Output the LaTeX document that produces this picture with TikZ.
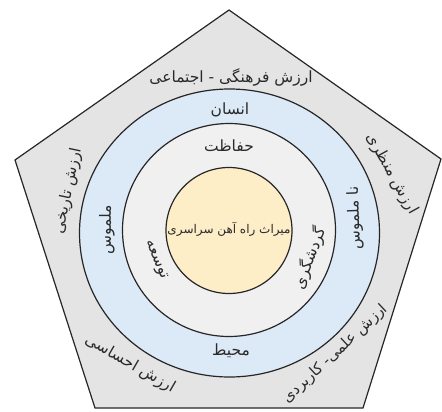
\documentclass[tikz,border=0pt]{standalone}
\usepackage{fontspec}
\newfontfamily\arabicfont[Script=Arabic]{DejaVu Sans}
\TeXXeTstate=1
\definecolor{pentfill}{HTML}{E4E4E4}
\definecolor{bluering}{HTML}{DCE9F7}
\definecolor{midring}{HTML}{F0F0F0}
\definecolor{corefill}{HTML}{FDEEC8}
\definecolor{linecol}{HTML}{262626}
\definecolor{txtcol}{HTML}{2A2A2A}
\begin{document}
\begin{tikzpicture}[x=1pt,y=-1pt,
  shapeline/.style={draw=linecol, line width=1.2pt},
  lbl/.style={font=\arabicfont\fontsize{15.5}{17}\selectfont, text=txtcol, inner sep=1pt},
  lblsmall/.style={lbl, font=\arabicfont\fontsize{12}{14}\selectfont}]
\useasboundingbox (0,0) rectangle (442,412);
\fill[white] (0,0) rectangle (442,412);
% pentagon
\draw[shapeline, fill=pentfill, line join=miter] (229,10) -- (441,159) -- (363,408) -- (95,408) -- (15,160) -- cycle;
% rings
\draw[shapeline, fill=bluering] (229.5,233) ellipse [x radius=150, y radius=144];
\draw[shapeline, fill=midring] (229,230) circle [radius=106.5];
\draw[shapeline, fill=corefill] (229,230.5) circle [radius=63];
% labels
\node[lbl] (cult) at (231,77) {\beginR ارزش فرهنگی - اجتماعی\endR};
\node[lbl] (ensan) at (230,110) {\beginR انسان\endR};
\node[lbl] (hefazat) at (229,146) {\beginR حفاظت\endR};
\node[lblsmall] (core) at (229,229) {\beginR میراث راه آهن سراسری\endR};
\node[lbl, rotate=90] (malmus) at (107,230) {\beginR ملموس\endR};
\node[lbl, rotate=92] (namalmus) at (355,218) {\beginR نا ملموس\endR};
\node[lbl, rotate=-68] (tose) at (156,260) {\beginR توسعه\endR};
\node[lbl, rotate=70] (gardesh) at (310,258) {\beginR گردشگری\endR};
\node[lbl] (mohit) at (231,351) {\beginR محیط\endR};
\node[lbl, rotate=78] (tarikhi) at (68,191) {\beginR ارزش تاریخی\endR};
\node[lbl, rotate=-61] (manzari) at (392,174) {\beginR ارزش منظری\endR};
\node[lbl, rotate=-30] (ehsasi) at (130,364) {\beginR ارزش احساسی\endR};
\node[lbl, rotate=43, font=\arabicfont\fontsize{15}{17}\selectfont] (elmi) at (335,354) {\beginR ارزش علمی- کاربردی\endR};
\end{tikzpicture}
\end{document}
